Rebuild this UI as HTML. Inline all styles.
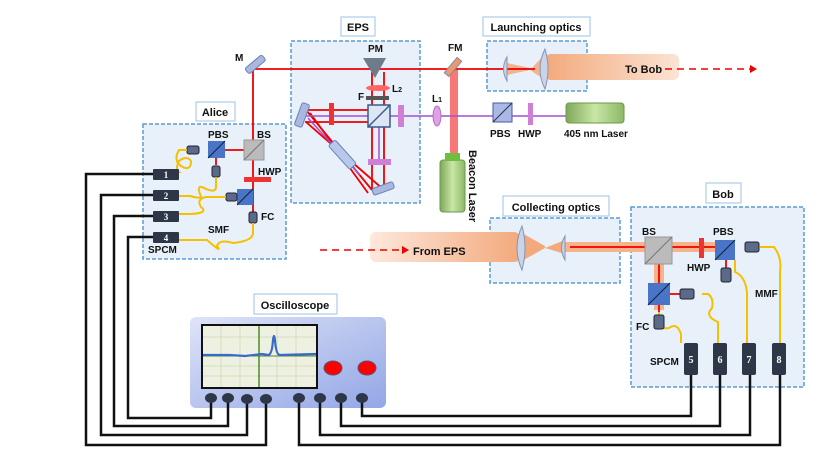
<!DOCTYPE html>
<html><head><meta charset="utf-8"><style>
html,body{margin:0;padding:0;background:#fff}
svg{display:block}
text{font-family:"Liberation Sans",sans-serif;font-weight:bold;fill:#111}
</style></head><body>
<svg width="830" height="467" viewBox="0 0 830 467" xmlns="http://www.w3.org/2000/svg">
<defs>
<linearGradient id="beam" x1="0" x2="1"><stop offset="0" stop-color="#f3a97c"/><stop offset="1" stop-color="#fbe3d4"/></linearGradient>
<linearGradient id="beam2" x1="0" x2="1"><stop offset="0" stop-color="#fde8dc"/><stop offset="1" stop-color="#f3a97c"/></linearGradient>
<linearGradient id="osc" x1="0" y1="0" x2="1" y2="1"><stop offset="0" stop-color="#dfe4f7"/><stop offset="1" stop-color="#93a6e6"/></linearGradient>
<linearGradient id="grn" x1="0" x2="1"><stop offset="0" stop-color="#7fa85a"/><stop offset="0.5" stop-color="#c9e6a6"/><stop offset="1" stop-color="#8cb866"/></linearGradient>
</defs>
<g fill="#e8f0fa" stroke="#5b9bd5" stroke-width="1.5" stroke-dasharray="4,2">
<rect x="291" y="41" width="129" height="162"/>
<rect x="143" y="124" width="143" height="135"/>
<rect x="487" y="41" width="100" height="50"/>
<rect x="490" y="218" width="130" height="65"/>
<rect x="631" y="207" width="173" height="180"/>
</g>
<g fill="#fff" stroke="#9dc3e6" stroke-width="1">
<rect x="341" y="17" width="34" height="19"/>
<rect x="196" y="102" width="39" height="19"/>
<rect x="483" y="17" width="107" height="19"/>
<rect x="503" y="196" width="106" height="20"/>
<rect x="706" y="183" width="35" height="20"/>
<rect x="254" y="294" width="83" height="20"/>
</g>
<g font-size="11">
<text x="358" y="31" text-anchor="middle">EPS</text>
<text x="215" y="116" text-anchor="middle">Alice</text>
<text x="536" y="31" text-anchor="middle">Launching optics</text>
<text x="556" y="211" text-anchor="middle">Collecting optics</text>
<text x="723" y="198" text-anchor="middle">Bob</text>
<text x="295" y="309" text-anchor="middle">Oscilloscope</text>
</g>
<!-- beams -->
<rect x="545" y="54" width="134" height="26" rx="6" fill="url(#beam)"/>
<polygon points="507,63 530,68 530,70 545,54 545,80 530,70 507,75" fill="#f3a97c" opacity="0.85"/>
<rect x="370" y="232" width="150" height="30" rx="6" fill="url(#beam2)"/>
<polygon points="520,232 545,246 545,248 565,240 565,254 545,248 520,262" fill="#f3a97c"/>
<rect x="565" y="242" width="160" height="10" fill="#f6b48c"/>
<rect x="654" y="250" width="10" height="60" fill="#f6b48c"/>
<rect x="450" y="69" width="8" height="90" fill="#f87878"/>
<g stroke="#e00" stroke-width="1.8" fill="none">
<line x1="253" y1="69" x2="535" y2="69"/>
<line x1="253" y1="69" x2="253" y2="213"/>
<line x1="208" y1="150" x2="253" y2="150"/>
<line x1="216" y1="150" x2="216" y2="165"/>
<line x1="235" y1="197" x2="253" y2="197"/>
<line x1="372" y1="72" x2="372" y2="190"/>
<line x1="384" y1="72" x2="384" y2="190"/>
<line x1="305" y1="110" x2="379" y2="110"/>
<line x1="305" y1="122" x2="379" y2="122"/>
<polyline points="306,110 372,190"/><polyline points="306,122 384,190"/>
<polyline points="310,113 368,193"/>
<line x1="570" y1="247" x2="728" y2="247"/>
<line x1="659" y1="250" x2="659" y2="312"/>
<line x1="659" y1="294" x2="690" y2="294"/>
<line x1="726" y1="247" x2="726" y2="270"/>
</g>
<g stroke="#a24fd6" stroke-width="1.5" fill="none">
<line x1="302" y1="116" x2="600" y2="116"/>
<line x1="379" y1="116" x2="379" y2="165"/>
<polyline points="308,118 360,175"/>
</g>
<g stroke="#e00" stroke-width="1.5" stroke-dasharray="7,5"><line x1="665" y1="69" x2="750" y2="69"/><line x1="320" y1="250" x2="402" y2="250"/></g>
<polygon points="750,65 757,69 750,73" fill="#e00"/><polygon points="402,246 409,250 402,254" fill="#e00"/>
<!-- EPS components -->
<polygon points="363,58 386,58 375,78" fill="#6d7b8a"/>
<ellipse cx="378" cy="88" rx="12" ry="3" fill="#f66"/>
<rect x="366" y="96" width="23" height="4" fill="#555"/>
<rect x="368" y="105" width="22" height="22" fill="#dce6f4" stroke="#3a5a8a" stroke-width="1.5"/>
<line x1="368" y1="127" x2="390" y2="105" stroke="#3a5a8a" stroke-width="1.5"/>
<rect x="329" y="103" width="5" height="22" fill="#e33"/>
<rect x="398" y="105" width="6" height="22" fill="#cf7fd6"/>
<rect x="368" y="159" width="23" height="6" fill="#cf7fd6"/>
<rect x="298" y="103" width="8" height="24" rx="2" fill="#aab8e0" stroke="#6a7fb8" transform="rotate(20 302 115)"/>
<rect x="372" y="185" width="22" height="7" rx="2" fill="#aab8e0" stroke="#6a7fb8" transform="rotate(-20 383 188)"/>
<rect x="326" y="150" width="32" height="9" rx="2" fill="#b8c8ea" stroke="#6a7fb8" transform="rotate(48 342 155)"/>
<rect x="244" y="61" width="22" height="7" rx="2" fill="#aab8e0" stroke="#6a7fb8" transform="rotate(-40 255 64)"/>
<rect x="443" y="64" width="20" height="6" fill="#e89a6a" stroke="#88a" transform="rotate(-50 453 67)"/>
<ellipse cx="437" cy="116" rx="4" ry="10" fill="#e0a0e8" stroke="#b070c0"/>
<g font-size="10">
<text x="235" y="61">M</text><text x="368" y="52">PM</text><text x="392" y="92">L<tspan font-size="7">2</tspan></text>
<text x="358" y="100">F</text><text x="448" y="51">FM</text><text x="432" y="102">L<tspan font-size="7">1</tspan></text>
<text x="490" y="137">PBS</text><text x="518" y="137">HWP</text><text x="564" y="137">405 nm Laser</text>
<text x="625" y="73" font-size="11">To Bob</text><text x="413" y="255" font-size="11">From EPS</text>
</g>
<text transform="translate(469,150) rotate(90)" font-size="11">Beacon Laser</text>
<!-- 405 optics -->
<rect x="493" y="103" width="19" height="19" fill="#aab8e8" stroke="#4a5a9a"/><line x1="493" y1="122" x2="512" y2="103" stroke="#334"/>
<rect x="528" y="103" width="5" height="22" fill="#cf7fd6"/>
<rect x="566" y="103" width="58" height="20" rx="3" fill="url(#grn)" stroke="#6a9a4a"/>
<rect x="440" y="160" width="25" height="52" rx="3" fill="url(#grn)" stroke="#6a9a4a"/>
<rect x="445" y="153" width="15" height="8" fill="#6fbf3f"/>
<!-- launching/collecting lenses -->
<path d="M507,57 q-7,12 0,24 z" fill="#c8d4e8" stroke="#8895b0"/>
<path d="M545,49 q-10,20 0,40 q6,-20 0,-40 z" fill="#c8d4e8" stroke="#8895b0"/>
<path d="M522,226 q-10,22 0,44 q6,-22 0,-44 z" fill="#c8d4e8" stroke="#8895b0"/>
<path d="M565,236 q-7,12 0,24 z" fill="#c8d4e8" stroke="#8895b0"/>
<!-- Alice components -->
<rect x="244" y="140" width="20" height="20" fill="#bbb" stroke="#999"/><line x1="244" y1="160" x2="264" y2="140" stroke="#777"/>
<rect x="208" y="141" width="17" height="17" fill="#4a74c8"/><line x1="208" y1="158" x2="225" y2="141" stroke="#123"/>
<rect x="244" y="177" width="27" height="5" fill="#e33"/>
<rect x="237" y="189" width="16" height="16" fill="#4a74c8"/><line x1="237" y1="205" x2="253" y2="189" stroke="#123"/>
<g fill="#5a6a88" stroke="#223"><rect x="187" y="146" width="12" height="8" rx="2"/><rect x="212" y="166" width="8" height="11" rx="2"/><rect x="226" y="193" width="11" height="8" rx="2"/><rect x="249" y="212" width="8" height="11" rx="2"/></g>
<g fill="none" stroke="#f5c000" stroke-width="2">
<path d="M187,150 h-8 q-6,10 2,16 q10,6 10,-5 q-4,-6 -12,0 q-4,8 0,11 L178,172"/>
<path d="M216,177 v10 q0,6 -10,2 q-10,-6 -6,5 q4,6 -10,2 h-12"/>
<path d="M226,197 h-20 q-10,2 -5,10 q8,6 -10,7 h-13"/>
<path d="M253,223 v10 q0,8 -20,10 q-14,-4 -16,3 q6,8 -10,-6 H178"/>
<path d="M659,312 v10 q0,8 10,6 q8,-6 12,6 v9"/>
<path d="M702,294 h6 q6,4 4,14 q-8,8 6,14 v21"/>
<path d="M735,260 v12 q10,4 12,20 v51"/>
<path d="M760,247 h14 q8,10 6,25 v71"/>
</g>
<g font-size="10">
<text x="208" y="138">PBS</text><text x="257" y="138">BS</text><text x="258" y="175">HWP</text><text x="261" y="220">FC</text>
<text x="208" y="233">SMF</text><text x="148" y="253">SPCM</text>
</g>
<g font-family="Liberation Serif" font-size="9">
<g fill="#2d3748"><rect x="153" y="169" width="26" height="11" rx="1"/><rect x="153" y="190" width="26" height="11" rx="1"/><rect x="153" y="211" width="26" height="11" rx="1"/><rect x="153" y="232" width="26" height="11" rx="1"/></g>
<text x="166" y="178" text-anchor="middle" style="fill:#fff;font-family:'Liberation Serif'">1</text>
<text x="166" y="199" text-anchor="middle" style="fill:#fff;font-family:'Liberation Serif'">2</text>
<text x="166" y="220" text-anchor="middle" style="fill:#fff;font-family:'Liberation Serif'">3</text>
<text x="166" y="241" text-anchor="middle" style="fill:#fff;font-family:'Liberation Serif'">4</text>
</g>
<!-- Bob components -->
<rect x="645" y="237" width="27" height="27" fill="#bbb" stroke="#999"/><line x1="645" y1="264" x2="672" y2="237" stroke="#777"/>
<rect x="699" y="238" width="5" height="20" fill="#e33"/>
<rect x="715" y="240" width="20" height="20" fill="#4a74c8"/><line x1="715" y1="260" x2="735" y2="240" stroke="#123"/>
<rect x="648" y="283" width="22" height="22" fill="#4a74c8"/><line x1="648" y1="305" x2="670" y2="283" stroke="#123"/>
<g fill="#5a6a88" stroke="#223"><rect x="745" y="242" width="14" height="10" rx="2"/><rect x="680" y="289" width="14" height="10" rx="2"/><rect x="721" y="268" width="10" height="14" rx="2"/><rect x="654" y="315" width="10" height="14" rx="2"/></g>
<g font-size="10"><text x="642" y="235">BS</text><text x="713" y="235">PBS</text><text x="687" y="271">HWP</text><text x="636" y="330">FC</text><text x="650" y="365">SPCM</text><text x="755" y="297">MMF</text></g>
<g fill="#2d3748"><rect x="684" y="343" width="14" height="32" rx="2"/><rect x="713" y="343" width="14" height="32" rx="2"/><rect x="742" y="343" width="14" height="32" rx="2"/><rect x="772" y="343" width="14" height="32" rx="2"/></g>
<g font-size="10" style="fill:#fff">
<text x="691" y="363" text-anchor="middle" style="fill:#fff;font-family:'Liberation Serif'">5</text>
<text x="720" y="363" text-anchor="middle" style="fill:#fff;font-family:'Liberation Serif'">6</text>
<text x="749" y="363" text-anchor="middle" style="fill:#fff;font-family:'Liberation Serif'">7</text>
<text x="779" y="363" text-anchor="middle" style="fill:#fff;font-family:'Liberation Serif'">8</text>
</g>
<!-- oscilloscope -->
<rect x="190" y="317" width="196" height="91" rx="6" fill="url(#osc)"/>
<rect x="202" y="325" width="115" height="63" fill="#eef0e2" stroke="#111" stroke-width="2"/>
<g stroke="#c8dcb0" stroke-width="0.7"><line x1="221" y1="326" x2="221" y2="387"/><line x1="240" y1="326" x2="240" y2="387"/><line x1="277" y1="326" x2="277" y2="387"/><line x1="296" y1="326" x2="296" y2="387"/><line x1="203" y1="337" x2="316" y2="337"/><line x1="203" y1="366" x2="316" y2="366"/><line x1="203" y1="376" x2="316" y2="376"/></g>
<line x1="259" y1="326" x2="259" y2="387" stroke="#4a8a2a" stroke-width="1.5"/>
<line x1="203" y1="356" x2="316" y2="356" stroke="#4a8a2a" stroke-width="1"/>
<path d="M203,355 L230,355 L245,356 L262,354 L268,355 Q272,355 273,340 Q274,332 275,340 Q276,355 280,355 L316,354" fill="none" stroke="#3a6ac8" stroke-width="2.2"/>
<ellipse cx="333" cy="368" rx="9" ry="7" fill="#f00" stroke="#557"/>
<ellipse cx="367" cy="368" rx="9" ry="7" fill="#f00" stroke="#557"/>
<g fill="none" stroke="#111" stroke-width="2.5">
<polyline points="153,174 86,174 86,445 266,445 266,400"/>
<polyline points="153,195 101,195 101,435 247,435 247,400"/>
<polyline points="153,216 114,216 114,426 228,426 228,400"/>
<polyline points="153,237 128,237 128,418 211,418 211,400"/>
<polyline points="299,400 299,445 780,445 780,375"/>
<polyline points="320,400 320,435 750,435 750,375"/>
<polyline points="341,400 341,426 720,426 720,375"/>
<polyline points="362,400 362,416 691,416 691,375"/>
</g>
<g fill="#2d3748"><ellipse cx="211" cy="398" rx="6" ry="5"/><ellipse cx="228" cy="398" rx="6" ry="5"/><ellipse cx="247" cy="399" rx="6" ry="5"/><ellipse cx="266" cy="399" rx="6" ry="5"/><ellipse cx="299" cy="398" rx="6" ry="5"/><ellipse cx="320" cy="398" rx="6" ry="5"/><ellipse cx="341" cy="398" rx="6" ry="5"/><ellipse cx="362" cy="398" rx="6" ry="5"/></g>
</svg>
</body></html>
